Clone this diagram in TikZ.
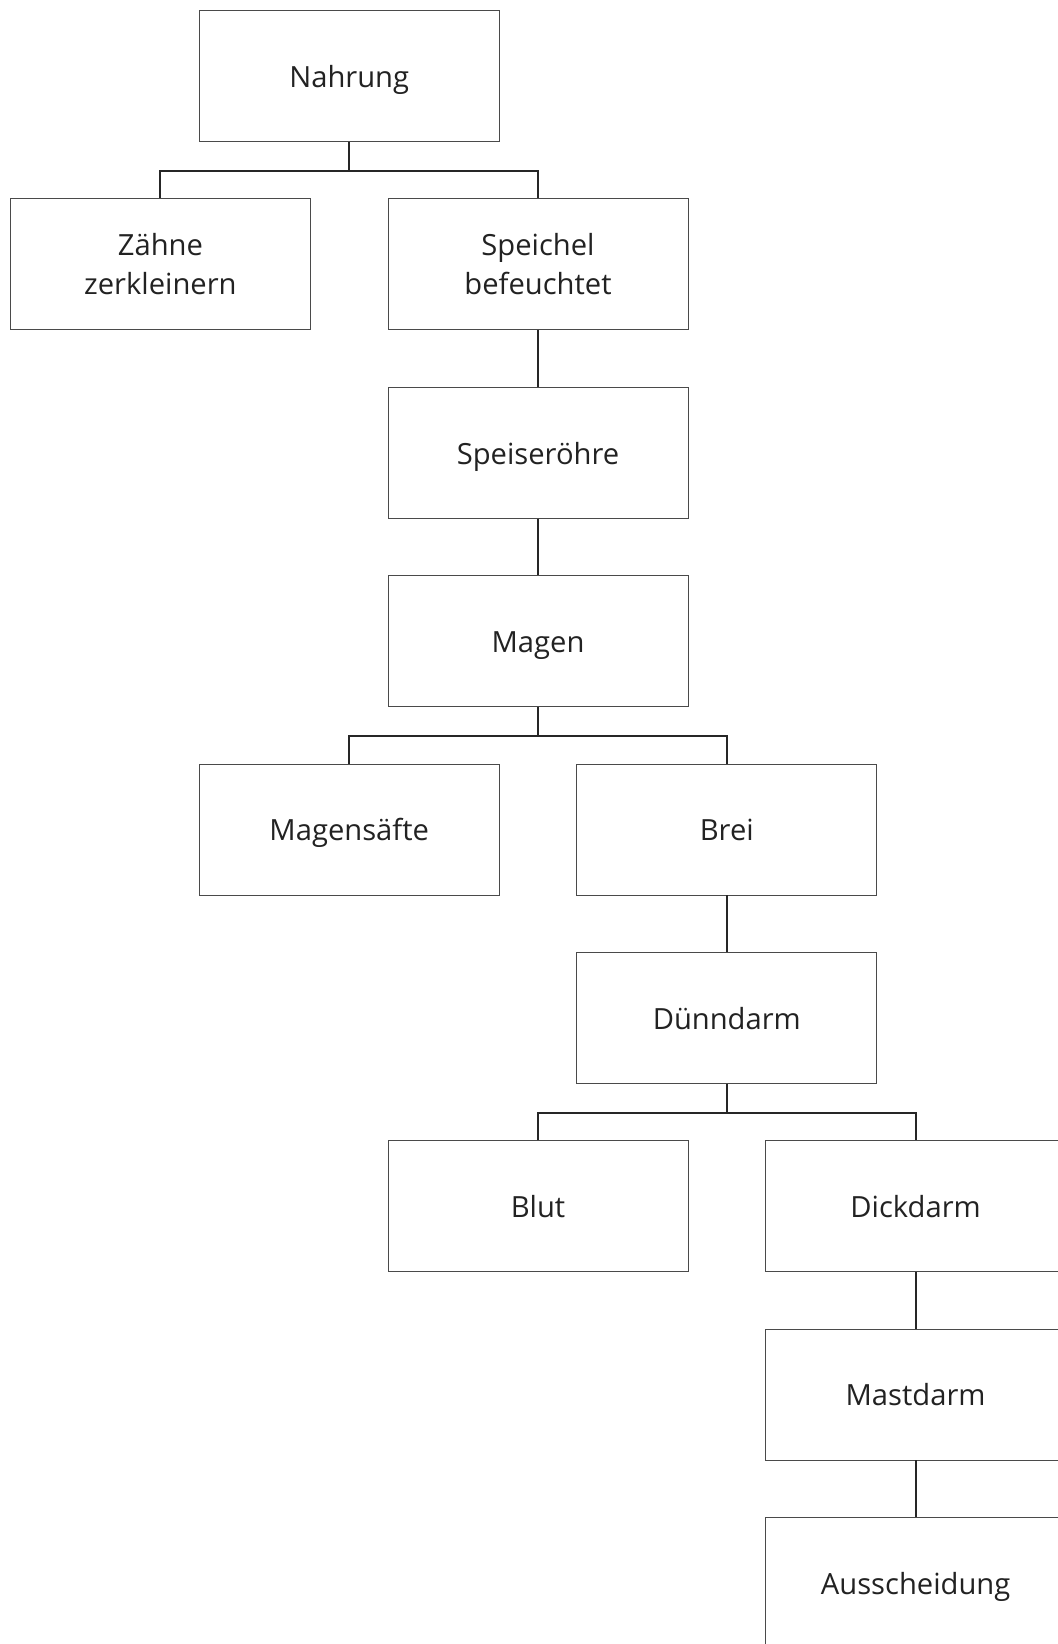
\documentclass[tikz,border=0pt]{standalone}
\usepackage{fontspec}
\setmainfont{Open Sans}

\definecolor{boxline}{HTML}{4A4A4A}
\definecolor{ink}{HTML}{222222}

\begin{document}
\begin{tikzpicture}[x=0.02cm,y=-0.02cm,
  organ/.style={draw=boxline,line width=0.5pt,minimum width=6cm,minimum height=2.62cm,
    inner sep=0pt,align=center,text=ink,font=\fontsize{16.6}{22.3}\selectfont},
  oneline/.style={organ,text height=14.9pt,text depth=2pt},
  link/.style={line width=1.1pt,black!85}]
  \useasboundingbox (0,0) rectangle (1058,1644);
  \clip (0,0) rectangle (1058,1644);
  % boxes, one row per level
  \node[oneline] (nahrung) at (349.2,76) {Nahrung};
  \node[organ] (zaehne) at (160.4,264.4) {Zähne\\zerkleinern};
  \node[organ] (speichel) at (538,264.4) {Speichel\\befeuchtet};
  \node[oneline] (speiseroehre) at (538,452.7) {Speiseröhre};
  \node[oneline] (magen) at (538,641.1) {Magen};
  \node[oneline] (magensaefte) at (349.2,829.5) {Magensäfte};
  \node[oneline] (brei) at (726.8,829.5) {Brei};
  \node[oneline] (duenndarm) at (726.8,1017.8) {Dünndarm};
  \node[oneline] (blut) at (538,1206.2) {Blut};
  \node[oneline] (dickdarm) at (915.6,1206.2) {Dickdarm};
  \node[oneline] (mastdarm) at (915.6,1394.5) {Mastdarm};
  \node[oneline] (ausscheidung) at (915.6,1582.9) {Ausscheidung};
  % straight links
  \foreach \a/\b in {speichel/speiseroehre,speiseroehre/magen,brei/duenndarm,
      dickdarm/mastdarm,mastdarm/ausscheidung}
    \draw[link] (\a) -- (\b);
  % forks
  \foreach \p/\l/\r in {nahrung/zaehne/speichel,magen/magensaefte/brei,duenndarm/blut/dickdarm}
    \draw[link] (\p.south) -- ++(0,29) coordinate (j)
      (\l.north) |- (j) -| (\r.north);
\end{tikzpicture}
\end{document}
